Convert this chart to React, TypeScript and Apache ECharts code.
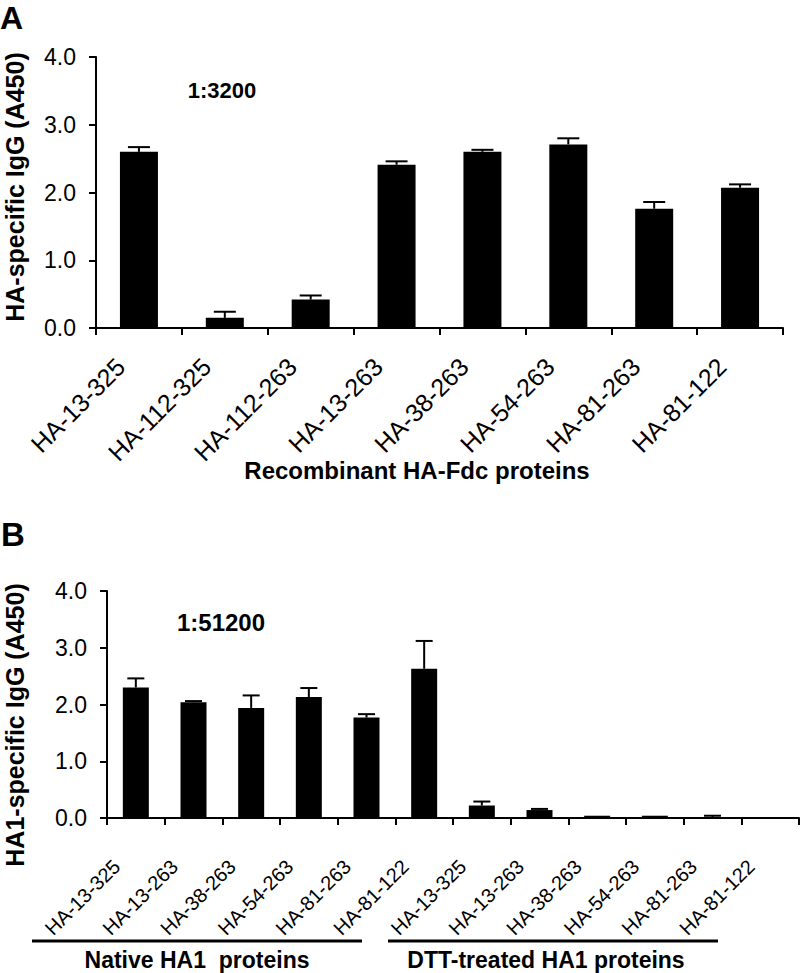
import React, { useEffect, useRef } from "react";
import * as echarts from "echarts";

const catsA = ["HA-13-325", "HA-112-325", "HA-112-263", "HA-13-263", "HA-38-263", "HA-54-263", "HA-81-263", "HA-81-122"];
const valsA = [2.6, 0.15, 0.42, 2.41, 2.6, 2.71, 1.76, 2.07];
const errA = [0.07, 0.09, 0.06, 0.05, 0.03, 0.09, 0.1, 0.05];

const catsB = ["HA-13-325", "HA-13-263", "HA-38-263", "HA-54-263", "HA-81-263", "HA-81-122", "HA-13-325", "HA-13-263", "HA-38-263", "HA-54-263", "HA-81-263", "HA-81-122"];
const valsB = [2.3, 2.04, 1.94, 2.13, 1.77, 2.63, 0.22, 0.14, 0.04, 0.04, 0.01, 0];
const errB = [0.16, 0.02, 0.22, 0.16, 0.06, 0.49, 0.07, 0.02, 0, 0, 0.03, 0];

const yTicks = [0, 1, 2, 3, 4];

const FONT = "'Liberation Sans', Arial, Helvetica, sans-serif";

function errSeries(vals: number[], errs: number[], idx: number, capW: number) {
  return {
    type: "custom",
    xAxisIndex: idx,
    yAxisIndex: idx,
    z: 1,
    data: vals.map((v, i) => [i, v, errs[i]]),
    renderItem: (params: any, api: any) => {
      const e = api.value(2);
      if (!e) return null;
      const base = api.coord([api.value(0), api.value(1)]);
      const top = api.coord([api.value(0), api.value(1) + e]);
      const st = { stroke: "#000", lineWidth: 2 };
      return {
        type: "group",
        children: [
          { type: "line", shape: { x1: base[0], y1: base[1], x2: top[0], y2: top[1] }, style: st },
          { type: "line", shape: { x1: top[0] - capW / 2, y1: top[1], x2: top[0] + capW / 2, y2: top[1] }, style: st },
        ],
      };
    },
  };
}

function xAx(cats: string[], idx: number, fs: number, margin: number, padR: number) {
  return {
    type: "category",
    gridIndex: idx,
    data: cats,
    axisLine: { show: true, lineStyle: { color: "#000", width: 2 } },
    axisTick: { show: true, length: 7, inside: false, lineStyle: { color: "#000", width: 2 } },
    axisLabel: { interval: 0, rotate: 45, margin, padding: [0, padR, 0, 0], color: "#000", fontSize: fs, fontFamily: FONT },
  };
}

function yAx(idx: number) {
  return {
    type: "value",
    gridIndex: idx,
    min: yTicks[0],
    max: yTicks[yTicks.length - 1],
    interval: 1,
    splitLine: { show: false },
    axisLine: { show: true, lineStyle: { color: "#000", width: 2 } },
    axisTick: { show: true, length: 7, lineStyle: { color: "#000", width: 2 } },
    axisLabel: { color: "#000", fontSize: 23, margin: 20, fontFamily: FONT, formatter: (v: number) => v.toFixed(1) },
  };
}

export default function App() {
  const ref = useRef<HTMLDivElement>(null);
  useEffect(() => {
    if (!ref.current) return;
    const chart = echarts.init(ref.current, null, { renderer: "svg" });
    chart.setOption({
      animation: false,
      backgroundColor: "#fff",
      grid: [
        { left: 96, top: 57, width: 687, height: 271 },
        { left: 107, top: 591, width: 692, height: 227 },
      ],
      xAxis: [xAx(catsA, 0, 25, 16, 26), xAx(catsB, 1, 20, 26, 27)],
      yAxis: [yAx(0), yAx(1)],
      series: [
        { type: "bar", xAxisIndex: 0, yAxisIndex: 0, data: valsA, barWidth: 38, itemStyle: { color: "#000" }, z: 2 },
        errSeries(valsA, errA, 0, 22),
        { type: "bar", xAxisIndex: 1, yAxisIndex: 1, data: valsB, barWidth: 26, itemStyle: { color: "#000" }, z: 2 },
        errSeries(valsB, errB, 1, 17),
      ],
      graphic: [
        { type: "text", left: 0, top: 2, style: { text: "A", font: `bold 32px ${FONT}`, fill: "#000" } },
        { type: "text", left: 1, top: 518, style: { text: "B", font: `bold 33px ${FONT}`, fill: "#000" } },
        { type: "text", x: 15, y: 187, rotation: Math.PI / 2, style: { text: "HA-specific IgG (A450)", font: `bold 25px ${FONT}`, fill: "#000", align: "center", verticalAlign: "middle" } },
        { type: "text", x: 15, y: 725, rotation: Math.PI / 2, style: { text: "HA1-specific IgG (A450)", font: `bold 25px ${FONT}`, fill: "#000", align: "center", verticalAlign: "middle" } },
        { type: "text", x: 222, y: 90, style: { text: "1:3200", font: `bold 22px ${FONT}`, fill: "#000", align: "center", verticalAlign: "middle" } },
        { type: "text", x: 221, y: 622, style: { text: "1:51200", font: `bold 24px ${FONT}`, fill: "#000", align: "center", verticalAlign: "middle" } },
        { type: "text", x: 417, y: 470, style: { text: "Recombinant HA-Fdc proteins", font: `bold 24px ${FONT}`, fill: "#000", align: "center", verticalAlign: "middle" } },
        { type: "line", shape: { x1: 32, y1: 941, x2: 362, y2: 941 }, style: { stroke: "#000", lineWidth: 3 } },
        { type: "line", shape: { x1: 388, y1: 941, x2: 718, y2: 941 }, style: { stroke: "#000", lineWidth: 3 } },
        { type: "text", x: 197, y: 960, style: { text: "Native HA1  proteins", font: `bold 23px ${FONT}`, fill: "#000", align: "center", verticalAlign: "middle" } },
        { type: "text", x: 546, y: 960, style: { text: "DTT-treated HA1 proteins", font: `bold 23px ${FONT}`, fill: "#000", align: "center", verticalAlign: "middle" } },
      ],
    });
    return () => chart.dispose();
  }, []);
  return <div ref={ref} style={{ position: "absolute", left: 0, top: 0, width: 800, height: 973 }} />;
}
